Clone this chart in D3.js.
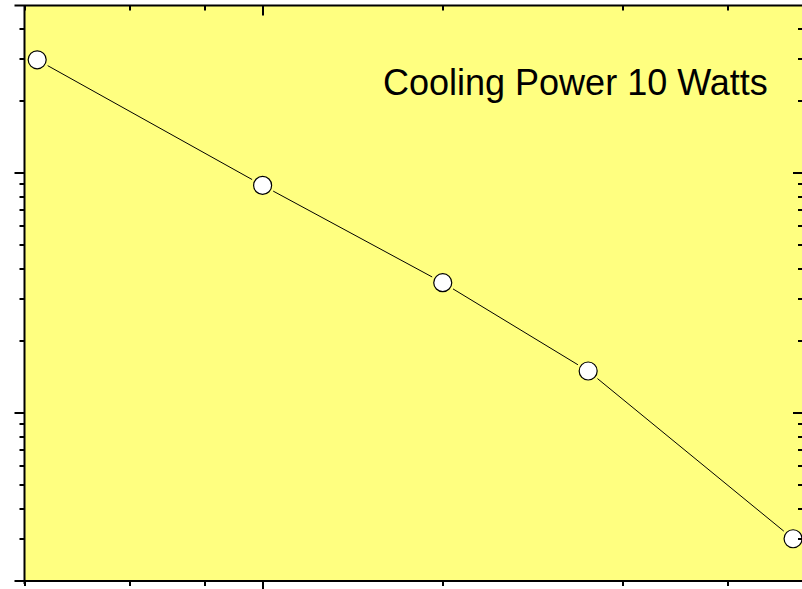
<!DOCTYPE html>
<html>
<head>
<meta charset="utf-8">
<script src="https://cdn.jsdelivr.net/npm/d3@7"></script>
<style>
  body { margin: 0; background: #fff; }
</style>
</head>
<body>
<div id="canvas"></div>
<script>
// data (log-log, no tick labels shown)
let xValues = [4.2, 10, 20, 35, 77];
let yValues = [297, 89, 35, 15, 3.0];
let xMajorTicks = [10];
let xMinorTicks = [4, 6, 8, 20, 40, 60, 80];
let yMajorTicks = [10, 100];
let yMinorTicks = [2, 3, 4, 5, 6, 7, 8, 9, 20, 30, 40, 50, 60, 70, 80, 90, 200, 300, 400];
let title = "Cooling Power 10 Watts";

let width = 802;
let height = 589;

var svg = d3.select("#canvas").append("svg")
    .attr("width", width)
    .attr("height", height);

// x scale, log
var xScale = d3.scaleLog()
    .domain([4, 80])
    .range([24.5, 803]);

// y scale, log
var yScale = d3.scaleLog()
    .domain([2, 500])
    .range([581, 5.5]);

var x0 = xScale.range()[0], x1 = xScale.range()[1];
var y0 = yScale.range()[0], y1 = yScale.range()[1];

// plot background
svg.append("rect")
    .attr("x", x0)
    .attr("y", y1)
    .attr("width", x1 - x0)
    .attr("height", y0 - y1)
    .attr("fill", "#ffff80");

// connecting line, broken around the markers
var r = 9;
for (let i = 0; i < xValues.length - 1; i++) {
    let ax = xScale(xValues[i]), ay = yScale(yValues[i]);
    let bx = xScale(xValues[i + 1]), by = yScale(yValues[i + 1]);
    let len = Math.hypot(bx - ax, by - ay);
    let gap = r + 3;
    let ux = (bx - ax) / len, uy = (by - ay) / len;
    svg.append("line")
        .attr("x1", ax + ux * gap)
        .attr("y1", ay + uy * gap)
        .attr("x2", bx - ux * gap)
        .attr("y2", by - uy * gap)
        .attr("stroke", "black")
        .attr("stroke-width", 1);
}

// markers
svg.selectAll("circle.pt")
    .data(d3.zip(xValues, yValues))
    .enter().append("circle")
    .attr("class", "pt")
    .attr("cx", d => xScale(d[0]))
    .attr("cy", d => yScale(d[1]))
    .attr("r", r)
    .attr("fill", "white")
    .attr("stroke", "black")
    .attr("stroke-width", 1.2);

// ticks: bottom/left outside, top/right inside
var major = 10, minor = 5;
var tickG = svg.append("g").attr("stroke", "black").attr("stroke-width", 2);

xMajorTicks.concat(xMinorTicks).forEach(function (v) {
    let len = xMajorTicks.includes(v) ? major : minor;
    let px = Math.round(xScale(v));
    tickG.append("line").attr("x1", px).attr("x2", px).attr("y1", y0).attr("y2", y0 + len);
    tickG.append("line").attr("x1", px).attr("x2", px).attr("y1", y1).attr("y2", y1 + len);
});

yMajorTicks.concat(yMinorTicks).forEach(function (v) {
    let len = yMajorTicks.includes(v) ? major : minor;
    let py = Math.round(yScale(v));
    tickG.append("line").attr("y1", py).attr("y2", py).attr("x1", x0).attr("x2", x0 - len);
    tickG.append("line").attr("y1", py).attr("y2", py).attr("x1", x1).attr("x2", x1 - len);
});

// frame, lines run past the corners like the original
tickG.append("line").attr("x1", x0 - major).attr("x2", x1).attr("y1", y0).attr("y2", y0);
tickG.append("line").attr("x1", x0 - major).attr("x2", x1).attr("y1", y1).attr("y2", y1);
tickG.append("line").attr("x1", x0).attr("x2", x0).attr("y1", y1).attr("y2", y0 + 3);
tickG.append("line").attr("x1", x1).attr("x2", x1).attr("y1", y1).attr("y2", y0);

svg.append("text")
    .attr("x", 383)
    .attr("y", 95)
    .attr("font-family", "Liberation Sans, Arial, sans-serif")
    .attr("font-size", 36)
    .attr("fill", "black")
    .text(title);
</script>
</body>
</html>
